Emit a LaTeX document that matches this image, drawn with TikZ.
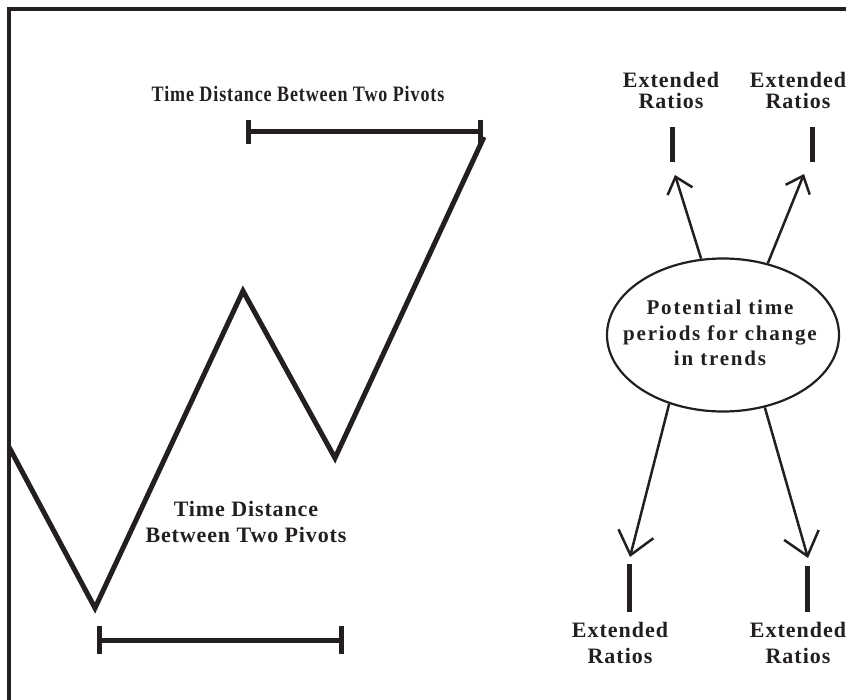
\documentclass[tikz,border=0pt]{standalone}
\usepackage{fontspec}
\setmainfont{Liberation Serif}
\newfontfamily\ratiofont[LetterSpace=4.5]{Liberation Serif}
\newfontfamily\ovalfont[LetterSpace=8.5]{Liberation Serif}
\newfontfamily\spanfont[LetterSpace=4]{Liberation Serif}
\newfontfamily\spannarrowfont[LetterSpace=4,FakeStretch=0.82]{Liberation Serif}
\usetikzlibrary{arrows.meta, shapes.geometric, positioning}
\definecolor{ink}{HTML}{231F20}

\begin{document}
\begin{tikzpicture}[
  x=1pt, y=-1pt,
  frame/.style  = {draw=ink, line width=4pt},
  zigzag/.style = {draw=ink, line width=5pt, line join=miter},
  span/.style   = {draw=ink, line width=5pt},
  bar/.style    = {fill=ink, inner sep=0pt, minimum width=5pt},
  trend/.style  = {ellipse, draw=ink, line width=2.2pt, inner sep=0pt,
                   minimum width=232pt, minimum height=153pt},
  arr/.style    = {draw=ink, line width=2.5pt,
                   -{Straight Barb[length=15pt, width=26pt]}},
  big arr/.style = {draw=ink, line width=2.5pt,
                   -{Straight Barb[length=22pt, width=36pt]}},
  ext/.style    = {text=ink, align=center, inner sep=0pt, anchor=north,
                   font=\ratiofont\bfseries\fontsize{22}{21}\selectfont},
  ext low/.style = {ext, font=\ratiofont\bfseries\fontsize{22}{26}\selectfont},
  span lbl/.style = {text=ink, align=center, inner sep=0pt,
                   font=\spanfont\bfseries\fontsize{22}{26}\selectfont},
  oval lbl/.style = {text=ink, align=center, inner sep=0pt, anchor=north,
                   font=\ovalfont\bfseries\fontsize{21}{25.5}\selectfont},
]
\useasboundingbox (0,0) rectangle (846,699);

% frame
\coordinate (fr-ne) at (850,9);
\coordinate (fr-sw) at (9,703);
\draw[frame] (fr-ne) -| (fr-sw);

% price swings
\coordinate (p0) at (9,447);
\coordinate (p1) at (95,608);
\coordinate (p2) at (243,291);
\coordinate (p3) at (335,458);
\coordinate (p4) at (484,137);
\draw[zigzag] (p0) -- (p1) -- (p2) -- (p3) -- (p4);

% time spans
\coordinate (span-hi-a) at (246,131.5);
\coordinate (span-hi-b) at (483,131.5);
\coordinate (span-lo-a) at (97,640);
\coordinate (span-lo-b) at (344,640);
\draw[span, {Bar[width=24pt]}-{Bar[width=24pt]}] (span-hi-a) -- (span-hi-b);
\draw[span, {Bar[width=28pt]}-{Bar[width=28pt]}] (span-lo-a) -- (span-lo-b);

\node[span lbl, anchor=base, font=\spannarrowfont\bfseries\fontsize{22}{26}\selectfont]
  (span-hi-lbl) at (298,101) {Time Distance Between Two Pivots};
\node[span lbl, anchor=north] (span-lo-lbl) at (246,501.5)
  {Time Distance\\Between Two Pivots};

% potential turning periods
\node[trend] (trend) at (723,335) {};
\node[oval lbl] (trend-lbl) at (720,300)
  {Potential time\\periods for change\\in trends};

% extended ratio markers
\node[bar, minimum height=35pt] (bar-nw) at (672,144.5) {};
\node[bar, minimum height=35pt] (bar-ne) at (812,144.5) {};
\node[bar, minimum height=48pt] (bar-sw) at (629,588) {};
\node[bar, minimum height=46pt] (bar-se) at (807,589) {};

\node[ext] (ext-nw) at (671,72.5) {Extended\\Ratios};
\node[ext] (ext-ne) at (798,72.5) {Extended\\Ratios};
\node[ext low] (ext-sw) at (620,622) {Extended\\Ratios};
\node[ext low] (ext-se) at (798,622) {Extended\\Ratios};

% arrows
\coordinate (tip-nw) at (675,175);
\coordinate (tip-ne) at (804,174);
\coordinate (tip-sw) at (630,557);
\coordinate (tip-se) at (808,558);
\draw[arr] (trend.106) -- (tip-nw);
\draw[arr] (trend.58) -- (tip-ne);
\draw[big arr] (trend.232) -- (tip-sw);
\draw[big arr] (trend.300) -- (tip-se);

\end{tikzpicture}
\end{document}
